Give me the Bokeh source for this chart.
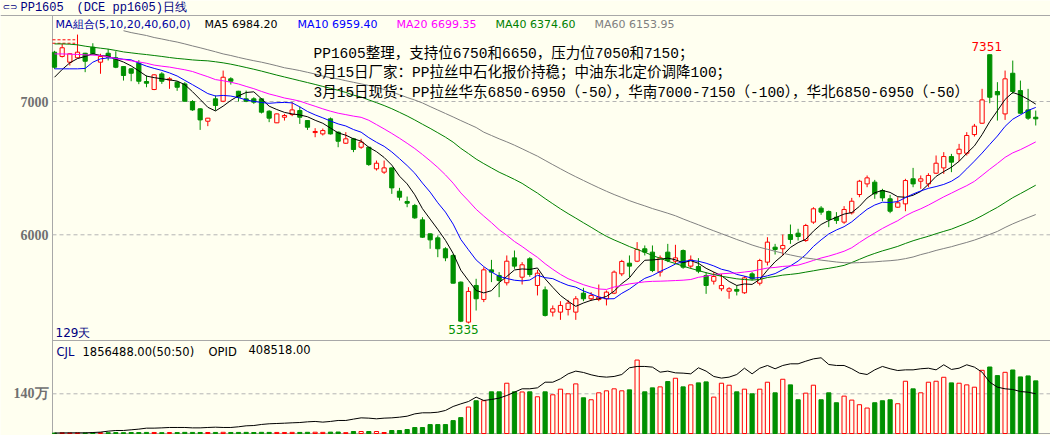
import numpy as np
import pandas as pd
from bokeh.plotting import figure
from bokeh.models import Range1d, ColumnDataSource, Label
from bokeh.embed import file_html
from bokeh.resources import INLINE

# ---------------- data ----------------
opens = [7370, 7338, 7295, 7328, 7362, 7407, 7295, 7362, 7328, 7262,
         7245, 7287, 7150, 7090, 7207, 7162, 7145, 7132, 7000, 6945,
         6852, 7020, 7002, 7170, 7077, 7020, 7020, 7020, 6927, 6840,
         6882, 6902, 6932, 6857, 6767, 6757, 6870, 6770, 6687, 6720,
         6657, 6657, 6495, 6470, 6502, 6327, 6250, 6220, 6112, 6007,
         5977, 5895, 5845, 5645, 5345, 5620, 5515, 5737, 5695, 5640,
         5827, 5682, 5820, 5620, 5587, 5420, 5420, 5440, 5420, 5562,
         5520, 5515, 5520, 5562, 5707, 5787, 5802, 5895, 5870, 5720,
         5870, 5802, 5882, 5765, 5762, 5695, 5652, 5595, 5577, 5590,
         5565, 5707, 5637, 5795, 5907, 5895, 6002, 6012, 5957, 6095,
         6200, 6175, 6132, 6095, 6165, 6302, 6382, 6395, 6332, 6270,
         6207, 6232, 6420, 6402, 6382, 6462, 6502, 6587, 6608, 6612,
         6752, 6837, 7351, 7075, 6907, 7212, 7082, 6937, 6882]
highs = [7380, 7433, 7362, 7502, 7365, 7437, 7358, 7395, 7377, 7265,
         7250, 7310, 7195, 7205, 7220, 7182, 7152, 7145, 7010, 6950,
         6877, 7045, 7232, 7182, 7080, 7082, 7032, 7025, 6935, 6910,
         6907, 6995, 6962, 6860, 6800, 6797, 6880, 6775, 6770, 6727,
         6720, 6660, 6557, 6557, 6505, 6352, 6287, 6232, 6132, 6010,
         5995, 5907, 5857, 5650, 5607, 5670, 5757, 5812, 5720, 5845,
         5882, 5795, 5832, 5737, 5612, 5470, 5502, 5512, 5540, 5602,
         5570, 5627, 5582, 5732, 5812, 5845, 5945, 5920, 5920, 5845,
         5932, 5925, 5890, 5845, 5825, 5720, 5720, 5707, 5607, 5620,
         5690, 5720, 5820, 5982, 5932, 6002, 6077, 6045, 6082, 6207,
         6215, 6182, 6170, 6215, 6277, 6412, 6445, 6412, 6345, 6300,
         6282, 6420, 6502, 6445, 6462, 6595, 6620, 6607, 6682, 6770,
         6832, 7095, 7351, 7145, 7232, 7307, 7157, 7095, 6932]
lows = [7245, 7330, 7270, 7325, 7220, 7350, 7208, 7308, 7250, 7157,
        7152, 7130, 7107, 7085, 7132, 7095, 7080, 7000, 6930, 6787,
        6815, 6932, 6995, 7127, 7000, 6995, 6982, 6910, 6845, 6838,
        6857, 6890, 6832, 6787, 6732, 6745, 6752, 6657, 6682, 6620,
        6645, 6517, 6482, 6457, 6307, 6257, 6207, 6120, 5977, 5895,
        5832, 5802, 5635, 5345, 5335, 5432, 5495, 5645, 5532, 5620,
        5745, 5627, 5685, 5545, 5387, 5387, 5362, 5395, 5362, 5502,
        5505, 5502, 5470, 5555, 5690, 5682, 5795, 5845, 5720, 5687,
        5795, 5782, 5745, 5745, 5712, 5557, 5627, 5577, 5520, 5545,
        5557, 5657, 5620, 5770, 5852, 5845, 5932, 5957, 5947, 6082,
        6150, 6057, 6082, 6082, 6152, 6282, 6357, 6270, 6252, 6162,
        6202, 6177, 6357, 6345, 6357, 6457, 6457, 6470, 6550, 6595,
        6737, 6832, 6987, 6857, 6862, 7057, 6907, 6862, 6820]
closes = [7257, 7403, 7358, 7370, 7302, 7358, 7338, 7332, 7257, 7195,
          7212, 7152, 7137, 7200, 7152, 7170, 7107, 7002, 6937, 6862,
          6875, 6970, 7182, 7152, 7032, 7002, 6995, 6920, 6875, 6907,
          6895, 6937, 6882, 6807, 6775, 6782, 6757, 6702, 6720, 6640,
          6695, 6527, 6537, 6502, 6352, 6282, 6237, 6127, 5982, 5962,
          5895, 5827, 5637, 5352, 5575, 5520, 5737, 5720, 5657, 5802,
          5765, 5775, 5702, 5712, 5395, 5445, 5470, 5487, 5520, 5520,
          5545, 5532, 5570, 5720, 5800, 5765, 5890, 5870, 5732, 5827,
          5807, 5827, 5757, 5812, 5727, 5620, 5687, 5620, 5595, 5577,
          5677, 5670, 5807, 5945, 5890, 5920, 5965, 5987, 6070, 6195,
          6170, 6115, 6107, 6190, 6252, 6402, 6427, 6307, 6277, 6177,
          6240, 6407, 6382, 6420, 6445, 6537, 6587, 6545, 6642, 6745,
          6815, 7012, 7032, 7050, 7170, 7075, 6912, 6875, 6870]
volumes = [15000, 25000, 18000, 22000, 20000, 24000, 30000, 28000, 32000, 30000,
           35000, 33000, 38000, 36000, 30000, 34000, 32000, 40000, 38000, 36000,
           35000, 37000, 42000, 36000, 38000, 40000, 35000, 41000, 39000, 37000,
           36000, 40000, 38000, 42000, 45000, 40000, 48000, 52000, 30000, 70000,
           70000, 70000, 70000, 35000, 105000, 105000, 140000, 210000, 210000, 315000,
           315000, 315000, 455000, 560000, 933000, 1155000, 1155000, 1470000, 1470000, 1773000,
           1470000, 1465000, 1470000, 1295000, 1470000, 1365000, 1563000, 1400000, 1750000, 1260000,
           1190000, 1435000, 1505000, 1575000, 1505000, 1540000, 2590000, 1470000, 1610000, 1645000,
           1832000, 1948000, 1645000, 1715000, 1785000, 1820000, 1283000, 1773000, 1703000, 1470000,
           1563000, 1400000, 1563000, 1808000, 1435000, 1913000, 1715000, 1190000, 1423000, 1703000,
           1190000, 1435000, 1085000, 1318000, 1178000, 1015000, 898000, 1085000, 1155000, 1190000,
           1050000, 1843000, 1575000, 1435000, 1808000, 1843000, 1983000, 1785000, 1773000, 1715000,
           1633000, 2228000, 2345000, 2042000, 2158000, 2240000, 1995000, 2030000, 1856488]
open_interest = [5000, 6000, 7000, 7000, 7000, 10000, 14000, 24000, 31000, 31000,
                 38000, 45000, 55000, 55000, 58000, 62000, 62000, 62000, 58000, 58000,
                 62000, 65000, 62000, 62000, 69000, 79000, 82000, 93000, 100000, 103000,
                 106000, 110000, 113000, 120000, 124000, 117000, 124000, 134000, 134000, 148000,
                 161000, 158000, 151000, 158000, 161000, 168000, 178000, 202000, 213000, 213000,
                 219000, 237000, 278000, 305000, 329000, 374000, 340000, 350000, 364000, 391000,
                 425000, 460000, 460000, 470000, 528000, 528000, 563000, 614000, 642000, 628000,
                 604000, 587000, 580000, 587000, 607000, 676000, 690000, 690000, 683000, 631000,
                 642000, 624000, 621000, 614000, 676000, 642000, 587000, 570000, 580000, 607000,
                 672000, 614000, 672000, 700000, 666000, 700000, 717000, 717000, 744000, 768000,
                 779000, 710000, 700000, 700000, 666000, 621000, 607000, 655000, 690000, 666000,
                 648000, 655000, 655000, 666000, 672000, 655000, 707000, 659000, 672000, 707000,
                 683000, 631000, 528000, 477000, 460000, 453000, 432000, 425000, 408518]

# moving-average values read off the picture where the window is not yet full
ma5_head = [7182, 7240, 7290, 7322]
ma10_head = [7245, 7245, 7245, 7245, 7248, 7295, 7320, 7327, 7325]
ma20_head = [7357, 7357, 7355, 7353, 7350, 7348, 7345, 7335, 7322, 7315,
             7305, 7297, 7287, 7273, 7265, 7258, 7248, 7238, 7225]
ma40_head = [7432, 7432, 7430, 7425, 7415, 7407, 7400, 7393, 7383, 7372,
             7365, 7358, 7352, 7345, 7338, 7330, 7323, 7318, 7312, 7308,
             7305, 7298, 7290, 7280, 7268, 7255, 7242, 7228, 7213, 7198,
             7184, 7170, 7156, 7142, 7128, 7113, 7099, 7084, 7068]
nan = float("nan")
ma60_head = [nan] * 9 + [
    7531, 7517, 7506, 7495, 7480, 7469, 7457, 7446, 7432, 7417,
    7403, 7388, 7373, 7357, 7345, 7331, 7318, 7306, 7295, 7282,
    7268, 7253, 7243, 7232, 7219, 7206, 7191, 7178, 7169, 7156,
    7144, 7132, 7120, 7106, 7090, 7071, 7051, 7030, 7011, 6989,
    6962, 6936, 6910, 6884, 6857, 6831, 6805, 6770, 6745, 6720]
ma_periods = [5, 10, 20, 40, 60]
ma_last_values = ["6984.20", "6959.40", "6699.35", "6374.60", "6153.95"]
price_ticks = [7000, 6000]
volume_tick = 1400000
volume_tick_label = "140万"
ref_levels = [7463, 7437]
high_mark_index = 122
notes = ["PP1605整理，支持位6750和6650，压力位7050和7150；",
         "3月15日厂家：PP拉丝中石化报价持稳；中油东北定价调降100；",
         "3月15日现货：PP拉丝华东6850-6950（-50），华南7000-7150（-100），华北6850-6950（-50）"]

# ---------------- styling / layout ----------------
BG = "#FFFFF0"
RED = "#FF0000"
GREEN = "#009000"
MA_COLORS = ["#000000", "#0000FF", "#FF00FF", "#008000", "#808080"]
SANS = "DejaVu Sans"
MONO = "Liberation Mono"
NOTE_FONT = "Liberation Mono, Noto Sans CJK SC"

W, H = 1050, 435
PITCH = 7.666           # px per bar
FIRST_BAR_PX = 54
PANEL_LEFT_PX = 52
REF_PRICE, REF_PY = 7000, 101
PRICE_PER_PX = 1000 / 133.3
VOL_BASE_PY = 433
VOL_PER_PX = 1400000 / 39.7
OI_PER_PX = 408518 / 39.7

n = len(closes)
idx = np.arange(n)
o = np.array(opens, float)
c = np.array(closes, float)
up = c >= o


def moving_average(period, head):
    ma = pd.Series(closes, dtype=float).rolling(period).mean().to_numpy()
    ma[:len(head)] = head
    return ma


mas = [moving_average(pd_, hd) for pd_, hd in
       zip(ma_periods, [ma5_head, ma10_head, ma20_head, ma40_head, ma60_head])]

x_start = -FIRST_BAR_PX / PITCH
x_end = (W - FIRST_BAR_PX) / PITCH
y_start = REF_PRICE - (H - REF_PY) * PRICE_PER_PX
y_end = REF_PRICE + REF_PY * PRICE_PER_PX

p = figure(width=W, height=H, x_range=Range1d(x_start, x_end),
           y_range=Range1d(y_start, y_end), toolbar_location=None,
           output_backend="svg", x_axis_location=None, y_axis_location=None,
           min_border=0, background_fill_color=BG, border_fill_color=BG,
           outline_line_color=None)
p.grid.visible = False
p.extra_x_ranges = {"px": Range1d(0, W)}
p.extra_y_ranges = {
    "py": Range1d(H, 0),
    "vol": Range1d(-(H - VOL_BASE_PY) * VOL_PER_PX, VOL_BASE_PY * VOL_PER_PX),
    "oi": Range1d(-(H - VOL_BASE_PY) * OI_PER_PX, VOL_BASE_PY * OI_PER_PX),
}

# frame lines
p.segment(x0=[0, PANEL_LEFT_PX, PANEL_LEFT_PX, PANEL_LEFT_PX],
          y0=[15, 15, 340, 433],
          x1=[W, PANEL_LEFT_PX, W, W],
          y1=[15, 433, 340, 433],
          x_range_name="px", y_range_name="py", line_color="#A8A8A8", line_width=1)

gx0 = (PANEL_LEFT_PX - FIRST_BAR_PX) / PITCH
p.segment(x0=gx0, x1=x_end, y0=price_ticks, y1=price_ticks,
          line_color="#B4B4B4", line_dash="4 3")
p.segment(x0=gx0, x1=x_end, y0=[volume_tick], y1=[volume_tick], y_range_name="vol",
          line_color="#B4B4B4", line_dash="4 3")
p.segment(x0=gx0, x1=2.7, y0=ref_levels, y1=ref_levels, line_color=RED, line_dash="3 2")

src = ColumnDataSource(dict(
    i=idx, open=opens, high=highs, low=lows, close=closes,
    top=np.maximum(o, c), bottom=np.minimum(o, c),
    color=[RED if u else GREEN for u in up],
    fill=[BG if u else GREEN for u in up],
    vol=volumes, oi=open_interest))

p.segment(x0="i", y0="low", x1="i", y1="high", line_color="color", source=src)
p.vbar(x="i", width=0.55, top="top", bottom="bottom", fill_color="fill",
       line_color="color", source=src)

for ma, col in zip(mas, MA_COLORS):
    p.line(idx, ma, line_color=col, line_width=1)

p.vbar(x="i", width=0.55, top="vol", bottom=0, fill_color="fill", line_color="color",
       source=src, y_range_name="vol")
p.line(x="i", y="oi", source=src, y_range_name="oi", line_color="black", line_width=1)


def label(x, y, text, color, size="11px", font=SANS, xr="px", yr="py",
          align="left", baseline="top", bold=False, **kw):
    p.add_layout(Label(x=x, y=y, text=text, text_color=color, text_font_size=size,
                       text_font=font, x_range_name=xr, y_range_name=yr,
                       text_align=align, text_baseline=baseline,
                       text_font_style="bold" if bold else "normal", **kw))


# header row
label(2, 1, "⊂⊃", "#000080", size="9px", font="DejaVu Sans")
label(20, 0, "PP1605", "#000080", size="12px", font=MONO)
label(76, 0, "(DCE pp1605)日线", "#000080", size="12px", font=MONO)

# MA legend row
label(55, 17, "MA組合(" + ",".join(str(v) for v in ma_periods) + ",0)", "#0000A0")
legend_x = [204, 297, 396, 495, 594]
for lx, per, val, col in zip(legend_x, ma_periods, ma_last_values, MA_COLORS):
    label(lx, 17, f"MA{per} {val}", col)

# notes
for k, line in enumerate(notes):
    label(313, 45 + k * 19.5, line, "#000000", size="14.5px", font=NOTE_FONT)

# price labels on the left
for t in price_ticks:
    label(48, t, str(t), "#707070", size="14px", font="Liberation Serif",
          yr="default", align="right", baseline="middle", bold=True)
label(48, volume_tick, volume_tick_label, "#707070", size="14px",
      font="Liberation Serif", yr="vol", align="right",
      baseline="middle", bold=True)

# high / low marks
lo_idx = int(np.argmin(lows))
label(high_mark_index, highs[high_mark_index], str(highs[high_mark_index]), RED,
      size="12px", xr="default", yr="default", align="center", baseline="bottom",
      y_offset=4, x_offset=-3)
label(lo_idx, lows[lo_idx], str(lows[lo_idx]), GREEN, size="12px", xr="default",
      yr="default", align="center", baseline="top", y_offset=-2, x_offset=-5)

label(55, 325, f"{n}天", "#000080", size="12px")

# volume panel legend
label(56, 344, "CJL", "#000080", size="11.5px")
label(82, 344, f"{volumes[-1]:.2f}(50:50)", "#000000", size="11.5px")
label(208, 344, "OPID", "#000000", size="11.5px")
label(248, 344, f"{open_interest[-1]:.2f}", "#000000", size="11.5px")

open("out.html", "w").write(file_html(p, INLINE))
